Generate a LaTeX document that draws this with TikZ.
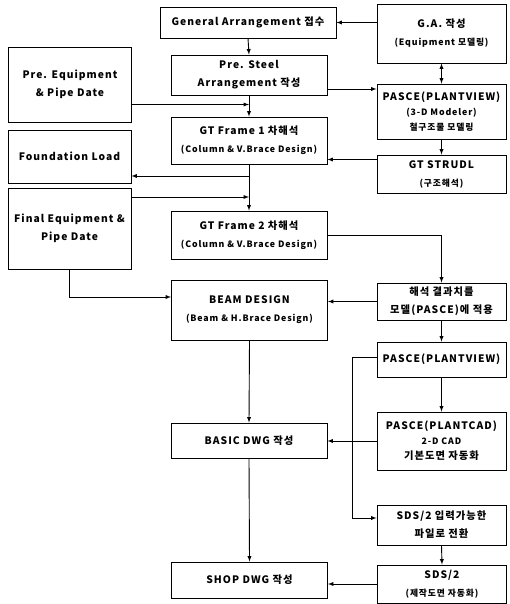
\documentclass[tikz,border=0pt]{standalone}
\usepackage{fontspec}
\setmainfont[LetterSpace=10]{Noto Sans CJK KR}
\usetikzlibrary{arrows}

\newcommand{\sm}[1]{{\fontsize{8.8}{18}\selectfont #1}}

\begin{document}
\begin{tikzpicture}[x=1pt,y=-1pt,>=latex,
		box/.style={draw, line width=0.9pt, rectangle, inner sep=0pt, align=center,
			font=\fontsize{10.3}{18}\selectfont\bfseries},
		midbox/.style={box, minimum width=156pt},
		rightbox/.style={box, minimum width=129pt},
		leftbox/.style={box, minimum width=123pt},
		flow/.style={->, line width=0.9pt}]
	\useasboundingbox (0,0) rectangle (510,604);

	% middle column
	\node[box, minimum width=176pt, minimum height=31pt] (garecv) at (248,22.5) {General Arrangement 접수};
	\node[midbox, minimum height=40pt] (presteel) at (249,75) {Pre. Steel\\Arrangement 작성};
	\node[midbox, minimum height=47pt] (gt1) at (249,140.5) {GT Frame 1 차해석\\\sm{(Column \& V.Brace Design)}};
	\node[midbox, minimum height=48pt] (gt2) at (249,235) {GT Frame 2 차해석\\\sm{(Column \& V.Brace Design)}};
	\node[midbox, minimum height=60pt] (beam) at (249.5,310) {BEAM DESIGN\\\sm{(Beam \& H.Brace Design)}};
	\node[midbox, minimum height=35pt] (basic) at (249,440.5) {BASIC DWG 작성};
	\node[midbox, minimum height=36pt] (shop) at (249.5,580) {SHOP DWG 작성};

	% left column
	\node[leftbox, minimum height=75pt] (preeq) at (70,84.5) {Pre. Equipment\\\& Pipe Date};
	\node[leftbox, minimum height=53pt] (fload) at (69.5,156.5) {Foundation Load};
	\node[leftbox, minimum height=81pt] (finaleq) at (69.5,228.5) {Final Equipment \&\\Pipe Date};

	% right column
	\node[rightbox, minimum height=59pt] (ga) at (441.5,33.5) {G.A. 작성\\\sm{(Equipment 모델링)}};
	\node[rightbox, minimum height=55pt] (pv1) at (441.5,111.5) {PASCE(PLANTVIEW)\\[-3pt]\sm{(3-D Modeler)}\\[-3pt]\sm{철구조물 모델링}};
	\node[rightbox, minimum height=38pt] (strudl) at (441.5,174) {GT STRUDL\\\sm{(구조해석)}};
	\node[rightbox, minimum height=37pt] (result) at (441.5,301.5) {해석 결과치를\\모델(PASCE)에 적용};
	\node[rightbox, minimum height=35pt] (pv2) at (441.5,359.5) {PASCE(PLANTVIEW)};
	\node[rightbox, minimum height=58pt] (pcad) at (441.5,441) {PASCE(PLANTCAD)\\[-3pt]\sm{2-D CAD}\\[-3pt]기본도면 자동화};
	\node[rightbox, minimum height=40pt] (sdsin) at (441.5,525) {SDS/2 입력가능한\\파일로 전환};
	\node[rightbox, minimum height=38pt] (sds) at (442,584) {SDS/2\\\sm{(제작도면 자동화)}};

	% connectors
	\draw[flow] (ga.west |- garecv.east) -- (garecv.east);
	\draw[<->, line width=0.9pt] (ga.south) -- (pv1.north);
	\draw[flow] (garecv.south) -- (presteel.north);
	\draw[flow] ([yshift=-14pt]presteel.east) -- ([yshift=-14pt]presteel.east -| pv1.west);
	\draw[flow] (presteel.south) -- (gt1.north);
	\draw[flow] ([yshift=-20pt]preeq.east) -- ([yshift=-20pt]preeq.east -| gt1.north);
	\draw[flow] (pv1.south) -- (strudl.north);
	\draw[flow] ([yshift=-19pt]gt1.east -| strudl.west) -- ([yshift=-19pt]gt1.east);
	\draw[flow] (gt1.south) -- (gt2.north);
	\draw[flow] (gt1.south) |- ([yshift=-19.5pt]fload.east);
	\draw[flow] ([yshift=31.5pt]finaleq.east) -- ([yshift=31.5pt]finaleq.east -| gt2.north);
	\draw[flow] (finaleq.south) |- ([yshift=13pt]beam.west);
	\draw[flow] (gt2.east) -| (result.north);
	\draw[flow] (result.west) -- (result.west -| beam.east);
	\draw[flow] (result.south) -- (pv2.north);
	\draw[flow] (pv2.south) -- (pcad.north);
	\draw[flow] ([yshift=2.5pt]pv2.west) -- ++(-24,0) |- ([yshift=7pt]sdsin.west);
	\draw[flow] (pcad.west) -- (pcad.west -| basic.east);
	\draw[flow] (beam.south) -- (basic.north);
	\draw[flow] (basic.south) -- (shop.north);
	\draw[flow] (sdsin.south) -- (sds.north);
	\draw[flow] (sds.west) -- (sds.west -| shop.east);
\end{tikzpicture}
\end{document}
